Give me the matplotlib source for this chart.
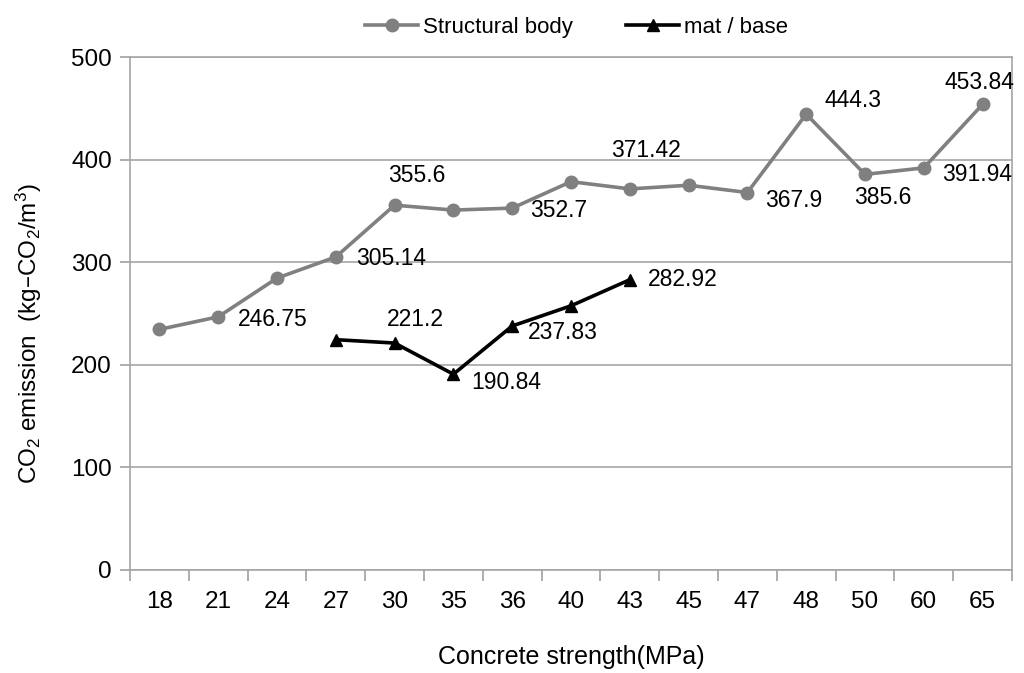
import matplotlib.pyplot as plt
import numpy as np

strengths = ['18', '21', '24', '27', '30', '35', '36', '40', '43', '45', '47', '48', '50', '60', '65']
structural = [234.5, 246.75, 284.5, 305.14, 355.6, 350.8, 352.7, 378.5, 371.42, 375.0, 367.9, 444.3, 385.6, 391.94, 453.84]
mat_base = [np.nan, np.nan, np.nan, 224.5, 221.2, 190.84, 237.83, 257.5, 282.92,
            np.nan, np.nan, np.nan, np.nan, np.nan, np.nan]

# (category index, text, dx px, dy px, ha)
struct_labels = [
    (1, '246.75', 20, -3, 'left'),
    (3, '305.14', 20, -2, 'left'),
    (4, '355.6', 22, 30, 'center'),
    (6, '352.7', 18, -2, 'left'),
    (8, '371.42', 16, 38, 'center'),
    (10, '367.9', 18, -8, 'left'),
    (11, '444.3', 18, 14, 'left'),
    (12, '385.6', 18, -23, 'center'),
    (13, '391.94', 18, -7, 'left'),
    (14, '453.84', -3, 22, 'center'),
]
mat_labels = [
    (4, '221.2', -8, 24, 'left'),
    (5, '190.84', 18, -8, 'left'),
    (6, '237.83', 16, -7, 'left'),
    (8, '282.92', 18, 0, 'left'),
]

plt.rcParams['font.family'] = ['Liberation Sans', 'DejaVu Sans']
plt.rcParams['mathtext.default'] = 'regular'

fig = plt.figure(figsize=(10.24, 6.73), dpi=100)
ax = fig.add_axes([130 / 1024, 1 - 570 / 673, 882 / 1024, 513 / 673])

x = np.arange(len(strengths))
grey = '#808080'
ax.plot(x, structural, color=grey, lw=2.6, marker='o', ms=9, label='Structural body')
ax.plot(x, mat_base, color='black', lw=2.6, marker='^', ms=9, label='mat / base')

px = 0.72  # points per pixel
for i, t, dx, dy, ha in struct_labels:
    ax.annotate(t, (x[i], structural[i]), xytext=(dx * px, dy * px), textcoords='offset points',
                ha=ha, va='center', fontsize=16.5)
for i, t, dx, dy, ha in mat_labels:
    ax.annotate(t, (x[i], mat_base[i]), xytext=(dx * px, dy * px), textcoords='offset points',
                ha=ha, va='center', fontsize=16.5)

ax.set_xlim(-0.5, len(strengths) - 0.5)
ax.set_ylim(0, 500)
ax.set_yticks(np.arange(0, 501, 100))
ax.set_xticks(x)
ax.set_xticklabels(strengths)
ax.set_xticks(np.arange(-0.5, len(strengths), 1), minor=True)
ax.tick_params(axis='x', which='major', length=0, pad=15, labelsize=17.5)
ax.tick_params(axis='x', which='minor', length=8, color='#a0a0a0', width=1.2)
ax.tick_params(axis='y', length=7, color='#a0a0a0', width=1.2, pad=6, labelsize=17.5)

ax.yaxis.grid(True, color='#a6a6a6', lw=1.2)
ax.set_axisbelow(True)
for s in ax.spines.values():
    s.set_color('#a6a6a6')
    s.set_linewidth(1.2)

ax.set_xlabel('Concrete strength(MPa)', fontsize=18, labelpad=23)
ax.set_ylabel('CO$_2$ emission  (kg–CO$_2$/m$^3$)', fontsize=17.5)
ax.yaxis.set_label_coords(-0.098, 0.46)

fig.legend(loc='upper center', bbox_to_anchor=(0.563, 1.005), ncol=2, frameon=False,
           fontsize=16, handlelength=2.4, columnspacing=2.4, handletextpad=0.2)

fig.savefig('out.png', dpi=100)
